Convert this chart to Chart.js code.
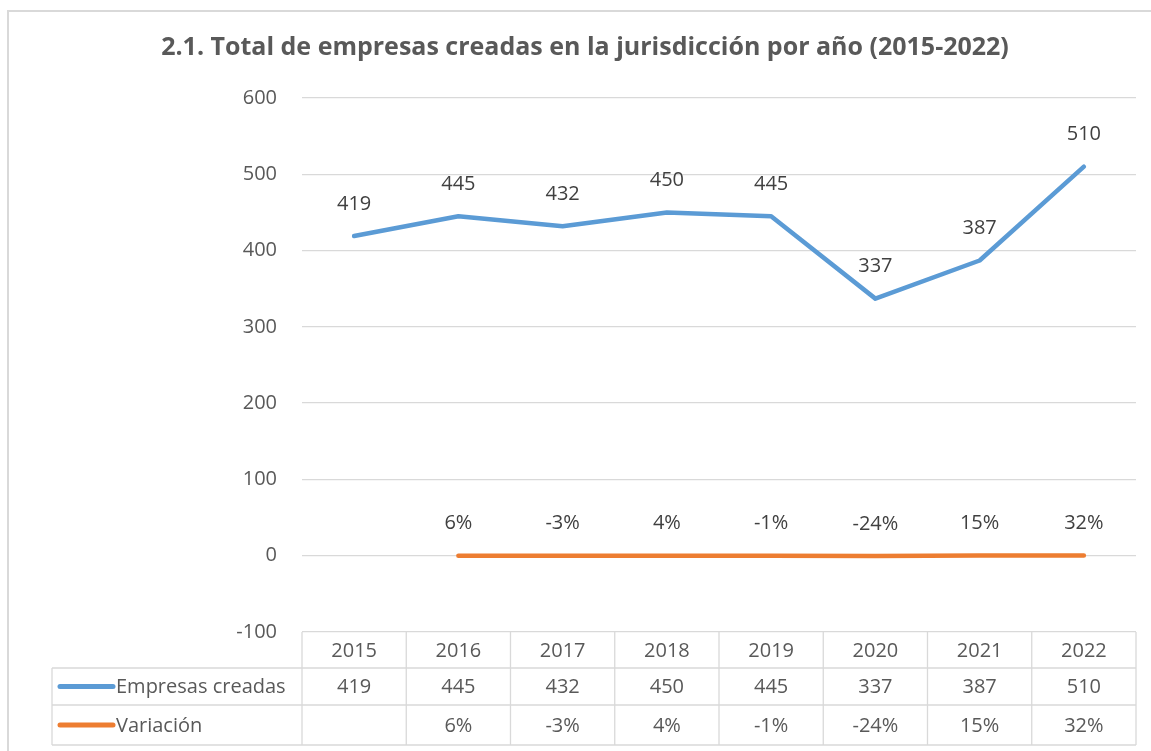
<!DOCTYPE html>
<html><head><meta charset="utf-8">
<script src="https://cdn.jsdelivr.net/npm/chart.js@4"></script>
<style>html,body{margin:0;padding:0;background:#fff;}#wrap{width:1151px;height:751px;position:relative;}</style>
</head><body><div id="wrap"><canvas id="c" width="1151" height="751"></canvas></div>
<script>
const title = "2.1. Total de empresas creadas en la jurisdicción por año (2015-2022)";
const years = ["2015","2016","2017","2018","2019","2020","2021","2022"];
const empresas = [419,445,432,450,445,337,387,510];
const variacion = [null,0.06,-0.03,0.04,-0.01,-0.24,0.15,0.32];
const variacionLabels = ["","6%","-3%","4%","-1%","-24%","15%","32%"];
const seriesNames = ["Empresas creadas","Variación"];
const colors = ["#5b9bd5","#ed7d31"];

const FONT = "'Open Sans', Lato, sans-serif";
const TXT = "#595959";
const GRID = "#d9d9d9";

const extras = {
  id:"extras",
  beforeDraw(chart){
    const ctx=chart.ctx;
    ctx.save();
    ctx.fillStyle="#fff";ctx.fillRect(0,0,chart.width,chart.height);
    ctx.strokeStyle=GRID;ctx.lineWidth=2;
    ctx.strokeRect(8,11,1160,760);
    ctx.restore();
  },
  afterDraw(chart){
    const ctx=chart.ctx, xs=chart.scales.x, ys=chart.scales.y, ca=chart.chartArea;
    ctx.save();
    // title
    ctx.fillStyle=TXT;ctx.font="bold 25px "+FONT;ctx.textAlign="center";ctx.textBaseline="middle";
    ctx.fillText(title,585,48);
    // data labels
    ctx.font="20px "+FONT;ctx.fillStyle="#404040";
    chart.data.datasets.forEach((ds,di)=>{
      ds.data.forEach((v,i)=>{
        if(v===null)return;
        const x=xs.getPixelForValue(i), y=ys.getPixelForValue(v);
        const lab = di===0? String(v) : variacionLabels[i];
        ctx.fillText(lab,x,y-32);
      });
    });
    // data table
    const half=(xs.getPixelForValue(1)-xs.getPixelForValue(0))/2;
    const left=52, top=ca.bottom, r1=668, r2=705, r3=745;
    ctx.strokeStyle=GRID;ctx.lineWidth=1.3;
    ctx.beginPath();
    [r1,r2,r3].forEach(y=>{ctx.moveTo(left,y);ctx.lineTo(ca.right,y);});
    ctx.moveTo(left,r1);ctx.lineTo(left,r3);
    for(let i=0;i<=years.length;i++){
      const x = i<years.length? xs.getPixelForValue(i)-half : xs.getPixelForValue(years.length-1)+half;
      ctx.moveTo(x,top);ctx.lineTo(x,r3);
    }
    ctx.stroke();
    ctx.fillStyle=TXT;ctx.font="20px "+FONT;ctx.textAlign="center";
    years.forEach((y,i)=>{
      const x=xs.getPixelForValue(i);
      ctx.fillText(y,x,(top+r1)/2+1);
      ctx.fillText(String(empresas[i]),x,(r1+r2)/2+1);
      ctx.fillText(variacionLabels[i],x,(r2+r3)/2+1);
    });
    // legend keys
    [[r1,r2],[r2,r3]].forEach((rr,k)=>{
      const cy=(rr[0]+rr[1])/2;
      ctx.strokeStyle=colors[k];ctx.lineWidth=5;ctx.lineCap="round";
      ctx.beginPath();ctx.moveTo(60,cy);ctx.lineTo(113,cy);ctx.stroke();
      ctx.fillStyle=TXT;ctx.textAlign="left";
      ctx.fillText(seriesNames[k],116,cy+1);
    });
    ctx.restore();
  }
};

new Chart(document.getElementById("c"),{
  type:"line",
  data:{labels:years,datasets:[
    {label:seriesNames[0],data:empresas,borderColor:colors[0],borderWidth:4.5,pointRadius:0,tension:0,borderCapStyle:"round",borderJoinStyle:"round"},
    {label:seriesNames[1],data:variacion,borderColor:colors[1],borderWidth:4.5,pointRadius:0,tension:0,borderCapStyle:"round",borderJoinStyle:"round"}
  ]},
  options:{
    responsive:false,animation:false,
    layout:{padding:{left:52,top:98,right:15,bottom:119}},
    plugins:{legend:{display:false},tooltip:{enabled:false},title:{display:false}},
    scales:{
      x:{display:false,offset:true},
      y:{min:-100,max:600,
        afterFit(s){s.width=250;},
        border:{display:false},
        grid:{color:GRID,lineWidth:1.3,drawTicks:false},
        ticks:{stepSize:100,padding:25,color:TXT,font:{family:FONT,size:20}}
      }
    }
  },
  plugins:[extras]
});
</script></body></html>
